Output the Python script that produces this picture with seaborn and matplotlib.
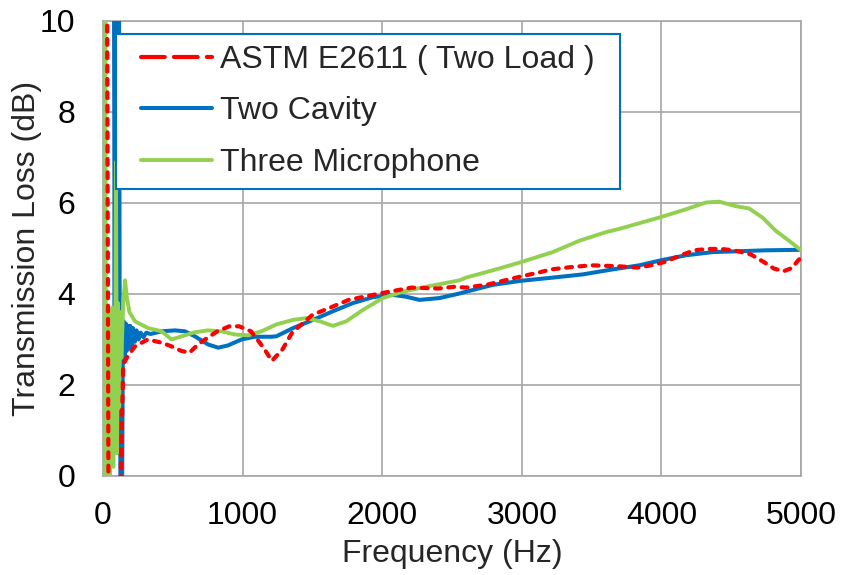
import matplotlib
matplotlib.use("Agg")
import matplotlib.pyplot as plt
import seaborn as sns

# Transmission loss spectra (Hz, dB) for three measurement methods
freq_astm = [28, 40, 120, 145, 180, 230, 320, 420, 490, 560, 620, 680, 750,
             820, 905, 975, 1060, 1150, 1210, 1285, 1355, 1500, 1620, 1760, 1900,
             2050, 2210, 2400, 2520, 2600, 2760, 2880, 3000, 3120, 3210, 3350, 3500,
             3690, 3830, 3925, 4020, 4140, 4235, 4330, 4425, 4520, 4640, 4735, 4805,
             4875, 4935, 4980, 5000]
tl_astm = [12, -1, -1, 2.45, 2.65, 2.85, 3.0, 2.93, 2.85, 2.75, 2.71, 2.89,
           3.04, 3.18, 3.29, 3.29, 3.18, 2.82, 2.53, 2.78, 3.15, 3.54, 3.69, 3.87,
           3.96, 4.05, 4.14, 4.12, 4.16, 4.14, 4.21, 4.30, 4.39, 4.47, 4.54, 4.59,
           4.63, 4.61, 4.58, 4.63, 4.70, 4.85, 4.96, 4.99, 4.99, 4.96, 4.87, 4.70,
           4.56, 4.50, 4.57, 4.74, 4.80]

freq_cavity = [78, 84, 90, 96, 102, 108, 114, 120, 126, 136, 142, 148, 155, 163, 170,
               178, 186, 195, 205, 215, 228, 240, 255, 270, 290, 310, 340, 380, 420,
               515, 587, 658, 753, 825, 896, 992, 1087, 1206, 1242, 1361, 1504, 1647,
               1790, 1933, 2076, 2172, 2267, 2410, 2553, 2601, 2792, 2995, 3221, 3436,
               3650, 3841, 3996, 4175, 4366, 4556, 4747, 4986, 5000]
tl_cavity = [12, 3.2, 12, 3.4, 12, 3.0, 12, 3.3, -1, -1, 2.7, 3.4, 2.6, 3.35, 2.75,
             3.3, 2.8, 3.3, 2.85, 3.25, 2.95, 3.2, 3.0, 3.15, 3.05, 3.15, 3.12, 3.15,
             3.18, 3.20, 3.18, 3.07, 2.89, 2.82, 2.87, 3.0, 3.06, 3.06, 3.07, 3.25,
             3.43, 3.62, 3.80, 3.93, 3.98, 3.94, 3.87, 3.91, 4.01, 4.05, 4.20, 4.29,
             4.36, 4.43, 4.54, 4.63, 4.74, 4.85, 4.92, 4.94, 4.96, 4.97, 4.97]

freq_mic = [0, 4, 8, 12, 16, 20, 26, 32, 38, 44, 50, 56, 62, 68, 74, 80, 86, 93, 100,
            108, 116, 124, 132, 145, 158, 172, 190, 229, 324, 420, 491, 563, 658, 753,
            849, 944, 1039, 1135, 1242, 1361, 1457, 1552, 1647, 1743, 1862, 2005,
            2148, 2315, 2553, 2601, 2792, 2995, 3221, 3412, 3603, 3698, 3984, 4175,
            4318, 4413, 4533, 4628, 4724, 4819, 4914, 5000]
tl_mic = [12, -1, 12, -1, 12, 3.2, -0.3, 3.5, 0.5, 3.6, 0, 3.3, 0.8, 3.7, 0.2, 3.5,
          1.0, 6.9, 0.5, 3.8, 1.5, 3.6, 2.6, 3.8, 4.3, 3.9, 3.6, 3.40, 3.25, 3.18,
          3.0, 3.07, 3.16, 3.20, 3.18, 3.11, 3.09, 3.18, 3.33, 3.43, 3.47, 3.40,
          3.30, 3.40, 3.65, 3.91, 4.05, 4.16, 4.30, 4.36, 4.52, 4.70, 4.92, 5.17,
          5.36, 5.43, 5.68, 5.86, 6.01, 6.03, 5.93, 5.88, 5.68, 5.39, 5.17, 4.96]

series_labels = ["ASTM E2611 ( Two Load )", "Two Cavity", "Three Microphone"]
x_ticks = [0, 1000, 2000, 3000, 4000, 5000]
y_ticks = [0, 2, 4, 6, 8, 10]

sns.set_style("white")
plt.rcParams["font.family"] = ["Liberation Sans", "DejaVu Sans"]

GRID = "#A6A6A6"
FS = 23

fig, ax = plt.subplots(figsize=(8.42, 5.75), dpi=100)
fig.subplots_adjust(left=0.1223, right=0.9513, top=0.9635, bottom=0.1722)

sns.lineplot(x=freq_cavity, y=tl_cavity, ax=ax, color="#0070C0", lw=2.9,
             sort=False, estimator=None, label=series_labels[1], zorder=3)
sns.lineplot(x=freq_mic, y=tl_mic, ax=ax, color="#92D050", lw=2.8,
             sort=False, estimator=None, label=series_labels[2], zorder=4)
sns.lineplot(x=freq_astm, y=tl_astm, ax=ax, color="#FF0000", lw=3.0,
             sort=False, estimator=None, label=series_labels[0], zorder=5,
             linestyle=(0, (1.4, 1.8)), dash_capstyle="round")

ax.set_xlim(0, 5000)
ax.set_ylim(0, 10)
ax.set_xticks(x_ticks)
ax.set_yticks(y_ticks)
ax.set_xticklabels([str(v) for v in x_ticks])
ax.set_yticklabels([str(v) for v in y_ticks])
ax.tick_params(axis="both", length=0, labelsize=FS, colors="black")
ax.tick_params(axis="x", pad=18)
ax.tick_params(axis="y", pad=20)
ax.set_xlabel("Frequency (Hz)", fontsize=FS, labelpad=6)
ax.set_ylabel("Transmission Loss (dB)", fontsize=FS, labelpad=-2)

ax.set_axisbelow(True)
ax.grid(True, color=GRID, lw=1.2)
for sp in ax.spines.values():
    sp.set_color(GRID)
    sp.set_linewidth(1.2)

handles, labels = ax.get_legend_handles_labels()
order = [labels.index(s) for s in series_labels]
leg = ax.legend([handles[i] for i in order], [labels[i] for i in order],
                loc="upper left", bbox_to_anchor=(0.040, 0.971),
                borderaxespad=0, frameon=True, fancybox=False,
                edgecolor="#0070C0", framealpha=1, fontsize=FS,
                handlelength=2.2, handletextpad=0.25, labelspacing=0.68,
                borderpad=0.33)
frame = leg.get_frame()
frame.set_linewidth(1.5)
frame.set_boxstyle("square", pad=0.47)
frame.set_mutation_aspect(0.001)
leg.get_lines()[0].set_linestyle((0, (5.7, 2.2)))
leg.get_lines()[0].set_dash_capstyle("round")

fig.savefig("out.png", dpi=100)
